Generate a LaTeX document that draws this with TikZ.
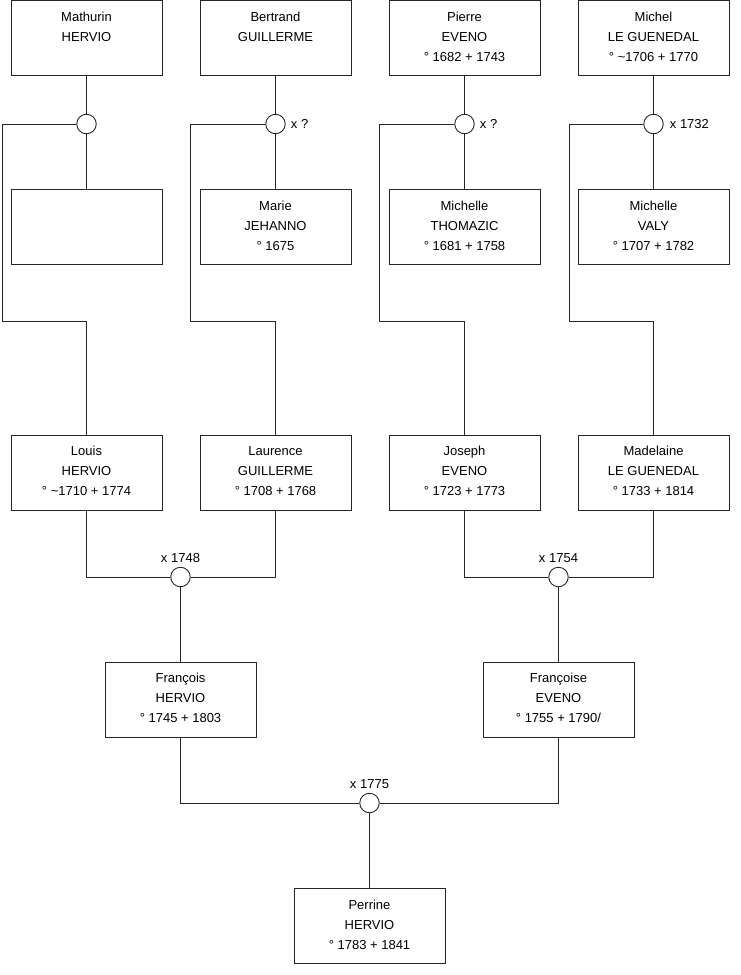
\documentclass[tikz,border=0pt]{standalone}
\usepackage{fontspec}
\setmainfont{Liberation Sans}
\newcommand{\dd}{\rule[-4pt]{0pt}{0pt}}
\newcommand{\tstrut}{\rule{0pt}{10pt}}
\begin{document}
\begin{tikzpicture}[x=1pt,y=-1pt,
  person/.style={draw=black!85, line width=0.9pt, rectangle, minimum width=151pt, minimum height=75pt, inner sep=0pt, align=center, font=\fontsize{13}{20}\selectfont},
  union/.style={draw=black!85, line width=0.9pt, circle, fill=white, minimum size=19.5pt, inner sep=0pt},
  lbl/.style={inner sep=0pt, font=\fontsize{13}{15}\selectfont},
  conn/.style={draw=black!85, line width=0.9pt}]
\useasboundingbox (0,0) rectangle (740,975);
% generation 1
\node[person] (mathurin) at (86.5,38) {\tstrut Mathurin\\HERVIO\\\mbox{}\dd};
\node[person] (bertrand) at (275.5,38) {\tstrut Bertrand\\GUILLERME\\\mbox{}\dd};
\node[person] (pierre) at (464.5,38) {\tstrut Pierre\\EVENO\\° 1682 + 1743\dd};
\node[person] (michel) at (653.5,38) {\tstrut Michel\\LE GUENEDAL\\° \textasciitilde1706 + 1770\dd};
\node[person] (w1) at (86.5,227) {};
\node[person] (marie) at (275.5,227) {\tstrut Marie\\JEHANNO\\° 1675\dd};
\node[person] (michelleT) at (464.5,227) {\tstrut Michelle\\THOMAZIC\\° 1681 + 1758\dd};
\node[person] (michelleV) at (653.5,227) {\tstrut Michelle\\VALY\\° 1707 + 1782\dd};
% generation 2
\node[person] (louis) at (86.5,472.5) {\tstrut Louis\\HERVIO\\° \textasciitilde1710 + 1774\dd};
\node[person] (laurence) at (275.5,472.5) {\tstrut Laurence\\GUILLERME\\° 1708 + 1768\dd};
\node[person] (joseph) at (464.5,472.5) {\tstrut Joseph\\EVENO\\° 1723 + 1773\dd};
\node[person] (madelaine) at (653.5,472.5) {\tstrut Madelaine\\LE GUENEDAL\\° 1733 + 1814\dd};
% generation 3
\node[person] (francois) at (180.5,699.5) {\tstrut François\\HERVIO\\° 1745 + 1803\dd};
\node[person] (francoise) at (558.5,699.5) {\tstrut Françoise\\EVENO\\° 1755 + 1790/\dd};
% generation 4
\node[person] (perrine) at (369.5,926) {\tstrut Perrine\\HERVIO\\° 1783 + 1841\dd};
% unions
\node[union] (u1) at (86.5,124) {};
\node[union] (u2) at (275.5,124) {};
\node[union] (u3) at (464.5,124) {};
\node[union] (u4) at (653.5,124) {};
\node[union] (u5) at (180.5,577) {};
\node[union] (u6) at (558.5,577) {};
\node[union] (u7) at (369.5,803) {};
% labels
\node[lbl, anchor=west] (l2) at ([xshift=5pt]u2.east) {x ?};
\node[lbl, anchor=west] (l3) at ([xshift=5pt]u3.east) {x ?};
\node[lbl, anchor=west] (l4) at ([xshift=6pt]u4.east) {x 1732};
\node[lbl, anchor=base] (l5) at ([yshift=4pt]u5.north) {x 1748};
\node[lbl, anchor=base] (l6) at ([yshift=4pt]u6.north) {x 1754};
\node[lbl, anchor=base] (l7) at ([yshift=4pt]u7.north) {x 1775};
% bend coordinates
\coordinate (b1) at (2.5,321);
\coordinate (b2) at (190.5,321);
\coordinate (b3) at (379.5,321);
\coordinate (b4) at (569.5,321);
% connectors
\draw[conn] (mathurin) -- (u1) -- (w1);
\draw[conn] (bertrand) -- (u2) -- (marie);
\draw[conn] (pierre) -- (u3) -- (michelleT);
\draw[conn] (michel) -- (u4) -- (michelleV);
\draw[conn] (u1.west) -| (b1) -| (louis.north);
\draw[conn] (u2.west) -| (b2) -| (laurence.north);
\draw[conn] (u3.west) -| (b3) -| (joseph.north);
\draw[conn] (u4.west) -| (b4) -| (madelaine.north);
\draw[conn] (louis.south) |- (u5.west);
\draw[conn] (laurence.south) |- (u5.east);
\draw[conn] (u5) -- (francois);
\draw[conn] (joseph.south) |- (u6.west);
\draw[conn] (madelaine.south) |- (u6.east);
\draw[conn] (u6) -- (francoise);
\draw[conn] (francois.south) |- (u7.west);
\draw[conn] (francoise.south) |- (u7.east);
\draw[conn] (u7) -- (perrine);
\end{tikzpicture}
\end{document}
